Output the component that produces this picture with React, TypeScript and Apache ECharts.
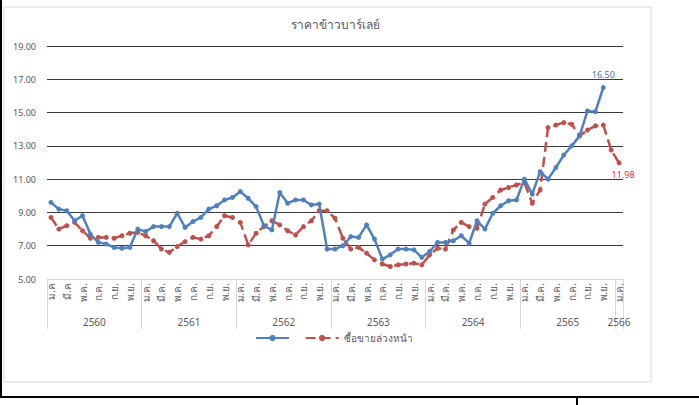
import React, { useEffect, useRef } from "react";
import * as echarts from "echarts";

const monthNames = ["ม.ค.", "ก.พ.", "มี.ค.", "เม.ย.", "พ.ค.", "มิ.ย.", "ก.ค.", "ส.ค.", "ก.ย.", "ต.ค.", "พ.ย.", "ธ.ค."];
const years = ["2560", "2561", "2562", "2563", "2564", "2565", "2566"];

const categories: string[] = [];
for (let y = 0; y < 6; y++) {
  for (let m = 0; m < 12; m++) categories.push(monthNames[m]);
}
categories.push("ม.ค.");
categories[0] = "ม.ค";
categories[2] = "มี.ค";

const spotPrice = [
  9.6, 9.2, 9.1, 8.5, 8.8, 7.7, 7.2, 7.1, 6.9, 6.85, 6.9, 8.0,
  7.85, 8.15, 8.15, 8.15, 8.95, 8.1, 8.45, 8.7, 9.2, 9.4, 9.75, 9.9,
  10.25, 9.85, 9.35, 8.2, 7.95, 10.2, 9.55, 9.75, 9.75, 9.45, 9.5, 6.8,
  6.8, 7.0, 7.55, 7.5, 8.25, 7.4, 6.2, 6.45, 6.8, 6.8, 6.75, 6.3,
  6.65, 7.2, 7.2, 7.3, 7.6, 7.15, 8.5, 8.0, 8.95, 9.4, 9.7, 9.75,
  11.0, 10.1, 11.45, 11.0, 11.7, 12.45, 13.0, 13.6, 15.1, 15.05, 16.5,
];

const futuresPrice = [
  8.7, 8.0, 8.2, 8.4, 7.9, 7.45, 7.5, 7.5, 7.45, 7.6, 7.75, 7.8,
  7.6, 7.3, 6.8, 6.6, 6.95, 7.25, 7.5, 7.4, 7.6, 8.15, 8.8, 8.7,
  8.4, 7.05, 7.75, 8.15, 8.5, 8.25, 7.9, 7.65, 8.15, 8.5, 9.1, 9.1,
  8.65, 7.45, 6.8, 6.9, 6.55, 6.15, 5.9, 5.75, 5.85, 5.9, 5.95, 5.85,
  6.45, 6.85, 6.8, 7.95, 8.4, 8.15, 8.05, 9.5, 9.9, 10.35, 10.5, 10.65,
  10.8, 9.55, 10.35, 14.1, 14.25, 14.4, 14.3, 13.6, 13.95, 14.2, 14.25, 12.75, 11.98,
];

const yTicks = { min: 5, max: 19, interval: 2 };
const yearLabelPositions = [6, 18, 30, 42, 54, 66, 72.5];
const yearBoundaries = [0, 12, 24, 36, 48, 60, 72, 73];

const BLUE = "#4F81BD";
const RED = "#C0504D";
const FONT = "'Noto Sans', 'DejaVu Sans', sans-serif";

export default function App() {
  const ref = useRef<HTMLDivElement>(null);
  useEffect(() => {
    if (!ref.current) return;
    const chart = echarts.init(ref.current, undefined, { renderer: "svg" });
    const lastBlue = spotPrice.length - 1;
    const lastRed = futuresPrice.length - 1;
    chart.setOption({
      animation: false,
      backgroundColor: "#ffffff",
      textStyle: { fontFamily: FONT },
      title: {
        text: "ราคาข้าวบาร์เลย์",
        left: 286,
        top: 13,
        textStyle: { fontSize: 12, fontWeight: "normal", color: "#595959", fontFamily: FONT },
      },
      graphic: [
        { type: "rect", shape: { x: 4, y: 7, width: 647, height: 375 }, style: { fill: "none", stroke: "#d9d9d9", lineWidth: 1 }, z: -10 },
        { type: "line", shape: { x1: 1, y1: 0, x2: 1, y2: 398 }, style: { stroke: "#000", lineWidth: 2 } },
        { type: "line", shape: { x1: 0, y1: 397, x2: 699, y2: 397 }, style: { stroke: "#000", lineWidth: 2 } },
        { type: "line", shape: { x1: 577, y1: 397, x2: 577, y2: 405 }, style: { stroke: "#000", lineWidth: 2 } },
      ],
      legend: {
        left: 250,
        top: 328,
        itemWidth: 33,
        itemHeight: 8,
        itemGap: 8,
        data: [" ", "ซื้อขายล่วงหน้า"],
        textStyle: { fontSize: 10, color: "#595959", fontFamily: FONT },
      },
      grid: { left: 47, right: 76, top: 46, bottom: 126, containLabel: false },
      xAxis: [
        {
          type: "category",
          data: categories,
          boundaryGap: true,
          axisLine: { show: true, lineStyle: { color: "#d9d9d9", width: 1 } },
          axisTick: { show: false },
          axisLabel: { interval: 1, rotate: 90, fontSize: 10, color: "#595959", margin: 4, fontFamily: FONT },
          splitLine: { show: false },
        },
        {
          type: "value",
          min: 0,
          max: 73,
          position: "bottom",
          axisLine: { show: false },
          axisTick: {
            show: true,
            customValues: yearBoundaries,
            length: 50,
            lineStyle: { color: "#d9d9d9", width: 1 },
          },
          axisLabel: {
            show: true,
            customValues: yearLabelPositions,
            formatter: (v: number) => years[Math.min(6, Math.floor(v / 12))],
            margin: 38,
            fontSize: 10,
            color: "#595959",
            fontFamily: FONT,
          },
          splitLine: { show: false },
        },
      ],
      yAxis: {
        type: "value",
        min: yTicks.min,
        max: yTicks.max,
        interval: yTicks.interval,
        axisLine: { show: false },
        axisTick: { show: false },
        axisLabel: { formatter: (v: number) => v.toFixed(2), fontSize: 9, color: "#595959", margin: 11, fontFamily: FONT },
        splitLine: { show: true, showMinLine: false, lineStyle: { color: "#3a3a3a", width: 1 } },
      },
      series: [
        {
          name: " ",
          type: "line",
          xAxisIndex: 0,
          data: spotPrice.map((v, i) =>
            i === lastBlue
              ? { value: v, label: { show: true, position: "top", distance: 6, color: "#4A6FA5", fontSize: 9, formatter: (p: any) => p.value.toFixed(2) } }
              : v
          ),
          symbol: "circle",
          symbolSize: 5,
          lineStyle: { color: BLUE, width: 2.5 },
          itemStyle: { color: BLUE },
          z: 3,
        },
        {
          name: "ซื้อขายล่วงหน้า",
          type: "line",
          xAxisIndex: 0,
          data: futuresPrice.map((v, i) =>
            i === lastRed
              ? { value: v, label: { show: true, position: "bottom", distance: 5, offset: [4, 0], color: "#E0342C", fontSize: 9, formatter: (p: any) => p.value.toFixed(2) } }
              : v
          ),
          symbol: "circle",
          symbolSize: 5,
          lineStyle: { color: RED, width: 2.5, type: [10, 5] },
          itemStyle: { color: RED },
          z: 2,
        },
      ],
    });
    return () => chart.dispose();
  }, []);
  return <div ref={ref} style={{ position: "absolute", left: 0, top: 0, width: 699, height: 405 }} />;
}
